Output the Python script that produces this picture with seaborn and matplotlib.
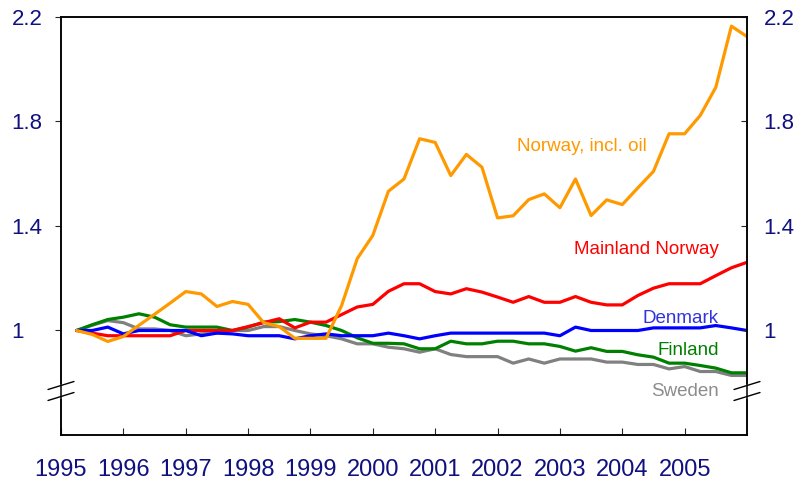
import numpy as np
import pandas as pd
import seaborn as sns
import matplotlib.pyplot as plt
from matplotlib.lines import Line2D

### Quarterly index, 1995Q1 = 1
Years = list(range(1995, 2006))
QuarterLabels = [f"{y}Q{q}" for y in Years for q in range(1, 5)]

NorwayOil = [1.00, 0.985, 0.958, 0.977, 1.02, 1.062, 1.105, 1.149, 1.14, 1.092,
             1.111, 1.10, 1.03, 1.015, 0.97, 0.97, 0.97, 1.096, 1.275, 1.364,
             1.533, 1.58, 1.734, 1.72, 1.593, 1.674, 1.625, 1.431, 1.439, 1.501,
             1.523, 1.47, 1.58, 1.44, 1.50, 1.482, 1.546, 1.609, 1.753, 1.753,
             1.823, 1.931, 2.165, 2.125]
MainlandNorway = [1.00, 0.99, 0.98, 0.98, 0.98, 0.98, 0.98, 1.00, 1.00, 1.00,
                  1.00, 1.015, 1.03, 1.045, 1.01, 1.032, 1.032, 1.061, 1.09, 1.10,
                  1.15, 1.179, 1.179, 1.149, 1.14, 1.16, 1.147, 1.128, 1.108, 1.13,
                  1.108, 1.108, 1.13, 1.108, 1.098, 1.098, 1.134, 1.162, 1.179, 1.179,
                  1.179, 1.21, 1.24, 1.261]
Denmark = [1.00, 1.00, 1.013, 0.987, 1.00, 1.00, 1.00, 1.00, 0.98, 0.99,
           0.987, 0.98, 0.98, 0.98, 0.968, 0.98, 0.987, 0.98, 0.98, 0.98,
           0.99, 0.98, 0.968, 0.98, 0.99, 0.99, 0.99, 0.99, 0.99, 0.99,
           0.99, 0.98, 1.013, 1.00, 1.00, 1.00, 1.00, 1.01, 1.01, 1.01,
           1.01, 1.019, 1.01, 1.00]
Finland = [1.00, 1.022, 1.042, 1.051, 1.064, 1.051, 1.022, 1.013, 1.013, 1.013,
           1.00, 1.013, 1.032, 1.034, 1.042, 1.032, 1.019, 1.00, 0.972, 0.951,
           0.951, 0.949, 0.93, 0.93, 0.959, 0.949, 0.949, 0.959, 0.959, 0.949,
           0.949, 0.939, 0.921, 0.934, 0.92, 0.92, 0.907, 0.898, 0.875, 0.875,
           0.866, 0.856, 0.838, 0.838]
Sweden = [1.00, 1.02, 1.038, 1.03, 1.006, 1.006, 1.00, 0.98, 0.987, 0.99,
          1.00, 1.00, 1.015, 1.015, 1.00, 0.987, 0.98, 0.968, 0.949, 0.949,
          0.936, 0.93, 0.917, 0.93, 0.908, 0.90, 0.90, 0.90, 0.875, 0.891,
          0.875, 0.891, 0.891, 0.891, 0.879, 0.879, 0.87, 0.87, 0.853, 0.862,
          0.843, 0.843, 0.828, 0.828]

YTicks = [1.0, 1.4, 1.8, 2.2]
YTickLabels = ['1', '1.4', '1.8', '2.2']

### Series name -> (values, line colour, label colour)
Series = {
    'Sweden': (Sweden, '#808080', '#8c8c8c'),
    'Finland': (Finland, '#008000', '#008000'),
    'Mainland Norway': (MainlandNorway, '#ff0000', '#ff0000'),
    'Denmark': (Denmark, '#0000ff', '#3333dd'),
    'Norway, incl. oil': (NorwayOil, '#ff9900', '#ff9900'),
}

### quarter label -> position on the time axis (end of quarter)
def QuarterPos(label):
    return int(label[:4]) + int(label[-1]) / 4

rows = []
for name, (vals, col, tcol) in Series.items():
    for q, v in zip(QuarterLabels, vals):
        rows.append({'t': QuarterPos(q), 'value': v, 'series': name})
df = pd.DataFrame(rows)

sns.set_style('ticks')
plt.rcParams['font.family'] = ['Liberation Sans', 'DejaVu Sans']

fig = plt.figure(figsize=(8.03, 4.86), dpi=100)
ax = fig.add_axes([61/803, 1-435/486, (747-61)/803, (435-17)/486])

sns.lineplot(data=df, x='t', y='value', hue='series',
             hue_order=list(Series.keys()),
             palette={k: v[1] for k, v in Series.items()},
             linewidth=2.3, legend=False, ax=ax)

ax.set_xlim(1995, 2006)
ax.set_ylim(0.6, 2.2)
ax.set_xlabel('')
ax.set_ylabel('')

navy = '#10107f'
ax.set_xticks(Years)
ax.set_xticklabels([str(y) for y in Years], color=navy, fontsize=17)
ax.tick_params(axis='x', direction='in', length=5, width=0.8, pad=17)
ax.set_yticks(YTicks)
ax.set_yticklabels(YTickLabels, color=navy, fontsize=16)
for lab in ax.get_yticklabels():
    lab.set_horizontalalignment('left')
ax.tick_params(axis='y', direction='out', length=4.5, width=0.8, pad=31)

ax2 = ax.twinx()
ax2.set_ylim(ax.get_ylim())
ax2.set_yticks(YTicks)
ax2.set_yticklabels(YTickLabels, color=navy, fontsize=16)
ax2.tick_params(axis='y', direction='in', length=4.5, width=0.8, pad=12)

for a in (ax, ax2):
    for sp in a.spines.values():
        sp.set_linewidth(1.1)
        sp.set_color('black')

### Series labels
LabelPos = {
    'Norway, incl. oil': (2004.4, 1.705),
    'Mainland Norway': (2005.55, 1.31),
    'Denmark': (2005.55, 1.045),
    'Finland': (2005.55, 0.925),
    'Sweden': (2005.55, 0.765),
}
for name, (x, y) in LabelPos.items():
    ax.text(x, y, name, color=Series[name][2], fontsize=13.5,
            ha='right', va='center')

### Axis break marks
for xa in (0.0, 1.0):
    yc = 1 - (391 - 17) / (435 - 17)
    dx = 13 / (747 - 61)
    dy = 4 / (435 - 17)
    gap = 5.5 / (435 - 17)
    ax.add_line(Line2D([xa, xa], [yc - gap, yc + gap], transform=ax.transAxes,
                       color='white', lw=3, clip_on=False, zorder=5))
    for off in (-gap, gap):
        ax.add_line(Line2D([xa - dx, xa + dx], [yc + off - dy, yc + off + dy],
                           transform=ax.transAxes, color='black', lw=1.0,
                           clip_on=False, zorder=6))

plt.savefig('out.png', dpi=100)
